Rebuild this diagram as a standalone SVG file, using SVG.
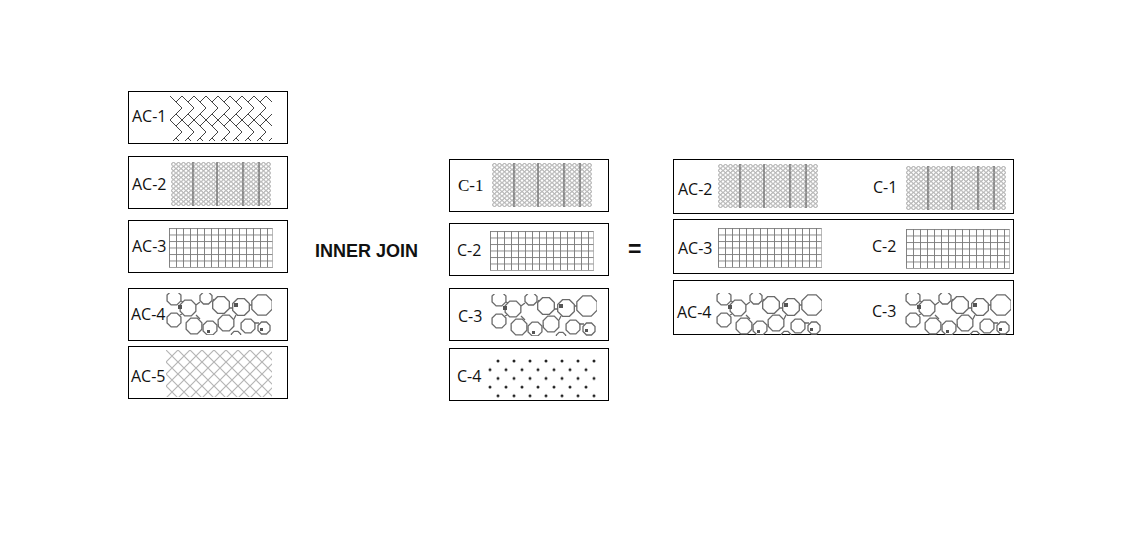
<svg xmlns="http://www.w3.org/2000/svg" width="1140" height="551" viewBox="0 0 1140 551">
<style>
.box{fill:#fff;stroke:#000;stroke-width:1}
.lbl{font-family:"Open Sans","Liberation Sans",sans-serif;font-size:16px;fill:#111}
.serif{font-family:"Liberation Serif",serif;font-size:17px;fill:#111}
.op{font-family:"Liberation Sans",Arial,sans-serif;font-weight:bold;fill:#111}
.cell{fill:none;stroke:#6a6a6a;stroke-width:1.3}
</style>
<defs>
<pattern id="herring" patternUnits="userSpaceOnUse" width="12" height="24" patternTransform="translate(170,96)">
<path d="M0,0 L12,12 L0,24 M6,6 L12,0 M6,18 L12,24" fill="none" stroke="#444" stroke-width="1"/>
</pattern>
<pattern id="knitp" patternUnits="userSpaceOnUse" width="5" height="4.4">
<ellipse cx="2.5" cy="2.2" rx="1.9" ry="1.7" fill="none" stroke="#8a8a8a" stroke-width="0.8"/>
</pattern>
<pattern id="gridp" patternUnits="userSpaceOnUse" width="7" height="6.5">
<path d="M0.5,0 V6.5 M0,0.5 H7" fill="none" stroke="#7a7a7a" stroke-width="0.9"/>
</pattern>
<pattern id="diamond" patternUnits="userSpaceOnUse" width="12" height="12" patternTransform="translate(166,350)">
<path d="M0,0 L12,12 M12,0 L0,12" fill="none" stroke="#b5b5b5" stroke-width="1.2"/>
</pattern>
<pattern id="dots" patternUnits="userSpaceOnUse" width="16" height="17.4" patternTransform="translate(490,361)">
<circle cx="8" cy="0" r="1.5" fill="#222"/>
<circle cx="0" cy="8.7" r="1.5" fill="#222"/>
<circle cx="16" cy="8.7" r="1.5" fill="#222"/>
<circle cx="8" cy="17.4" r="1.5" fill="#222"/>
</pattern>
<polygon id="oct" vector-effect="non-scaling-stroke" points="0.924,0.383 0.383,0.924 -0.383,0.924 -0.924,0.383 -0.924,-0.383 -0.383,-0.924 0.383,-0.924 0.924,-0.383"/>
<clipPath id="foamclip"><rect x="0" y="0" width="106" height="42"/></clipPath>
<symbol id="knit" overflow="visible">
<rect x="0" y="0" width="100" height="44" fill="url(#knitp)"/>
<path d="M22,0 V44 M46,0 V44 M72,0 V44 M88,0 V44" stroke="#666" stroke-width="1.2"/>
</symbol>
<symbol id="grid" overflow="visible">
<rect x="0" y="0" width="104" height="40" fill="url(#gridp)"/>
<path d="M0,39.5 H104 M103.5,0 V40" stroke="#aaa" stroke-width="0.8"/>
</symbol>
<symbol id="foam" overflow="visible">
<g clip-path="url(#foamclip)" class="cell">
<use href="#oct" transform="translate(8,5) scale(7.5)"/>
<use href="#oct" transform="translate(22,15) scale(8.5)"/>
<use href="#oct" transform="translate(8,27) scale(7.5)"/>
<use href="#oct" transform="translate(28,33) scale(8.5)"/>
<use href="#oct" transform="translate(40,5) scale(6.5)"/>
<use href="#oct" transform="translate(55,12) scale(9)"/>
<use href="#oct" transform="translate(44,35) scale(7.5)"/>
<use href="#oct" transform="translate(60,30) scale(8.5)"/>
<use href="#oct" transform="translate(75,14) scale(9)"/>
<use href="#oct" transform="translate(82,33) scale(7.5)"/>
<use href="#oct" transform="translate(96,12) scale(11)"/>
<use href="#oct" transform="translate(98,35) scale(6.5)"/>
<use href="#oct" transform="translate(70,43) scale(5)"/>
<path d="M15,8 L17,9 M30,12 L34,9 M30,22 L34,26 M47,8 L48,6 M63,15 L67,15 M52,32 L53,32 M68,26 L70,22 M84,12 L86,12 M88,30 L93,30 M14,22 L16,21"/>
<rect x="12" y="12" width="4" height="4" fill="#555" stroke="none"/>
<rect x="68" y="10" width="4" height="4" fill="#555" stroke="none"/>
<rect x="94" y="35" width="3" height="3" fill="#555" stroke="none"/>
<rect x="41" y="37" width="3" height="3" fill="#555" stroke="none"/>
</g>
</symbol>
</defs>
<rect width="1140" height="551" fill="#fff"/>

<g id="connectors"/>

<g id="ac-1">
<rect class="box" x="128.5" y="91.5" width="159" height="52"/>
<rect x="170" y="96" width="102" height="45" fill="url(#herring)"/>
<text class="lbl" x="132" y="122">AC-1</text>
</g>
<g id="ac-2">
<rect class="box" x="128.5" y="156.5" width="159" height="52"/>
<use href="#knit" x="171" y="162"/>
<text class="lbl" x="132" y="190">AC-2</text>
</g>
<g id="ac-3">
<rect class="box" x="128.5" y="220.5" width="159" height="52"/>
<use href="#grid" x="169" y="228"/>
<text class="lbl" x="132" y="252">AC-3</text>
</g>
<g id="ac-4">
<rect class="box" x="128.5" y="288.5" width="159" height="52"/>
<use href="#foam" x="166" y="293"/>
<text class="lbl" x="131" y="320">AC-4</text>
</g>
<g id="ac-5">
<rect class="box" x="128.5" y="346.5" width="159" height="52"/>
<rect x="166" y="350" width="106" height="47" fill="url(#diamond)"/>
<text class="lbl" x="131" y="382">AC-5</text>
</g>

<g id="inner-join">
<text class="op" x="315" y="257" font-size="18">INNER JOIN</text>
</g>

<g id="c-1">
<rect class="box" x="449.5" y="159.5" width="159" height="52"/>
<use href="#knit" x="492" y="163"/>
<text class="serif" x="458" y="191">C-1</text>
</g>
<g id="c-2">
<rect class="box" x="449.5" y="223.5" width="159" height="52"/>
<use href="#grid" x="490" y="231"/>
<text class="lbl" x="457" y="256">C-2</text>
</g>
<g id="c-3">
<rect class="box" x="449.5" y="288.5" width="159" height="52"/>
<use href="#foam" x="491" y="294"/>
<text class="lbl" x="458" y="322">C-3</text>
</g>
<g id="c-4">
<rect class="box" x="449.5" y="348.5" width="159" height="52"/>
<rect x="488" y="356" width="110" height="43" fill="url(#dots)"/>
<text class="lbl" x="457" y="382">C-4</text>
</g>

<g id="equals">
<text class="op" x="628" y="257" font-size="23">=</text>
</g>

<g id="result-1">
<rect class="box" x="673.5" y="159.5" width="340" height="54"/>
<use href="#knit" x="718" y="164"/>
<text class="lbl" x="678" y="195">AC-2</text>
<use href="#knit" x="906" y="166"/>
<text class="lbl" x="873" y="193">C-1</text>
</g>
<g id="result-2">
<rect class="box" x="673.5" y="219.5" width="340" height="54"/>
<use href="#grid" x="718" y="228"/>
<text class="lbl" x="678" y="254">AC-3</text>
<use href="#grid" x="906" y="229"/>
<text class="lbl" x="872" y="252">C-2</text>
</g>
<g id="result-3">
<rect class="box" x="673.5" y="280.5" width="340" height="54"/>
<use href="#foam" x="716" y="293"/>
<text class="lbl" x="677" y="318">AC-4</text>
<use href="#foam" x="905" y="293"/>
<text class="lbl" x="872" y="317">C-3</text>
</g>
</svg>
